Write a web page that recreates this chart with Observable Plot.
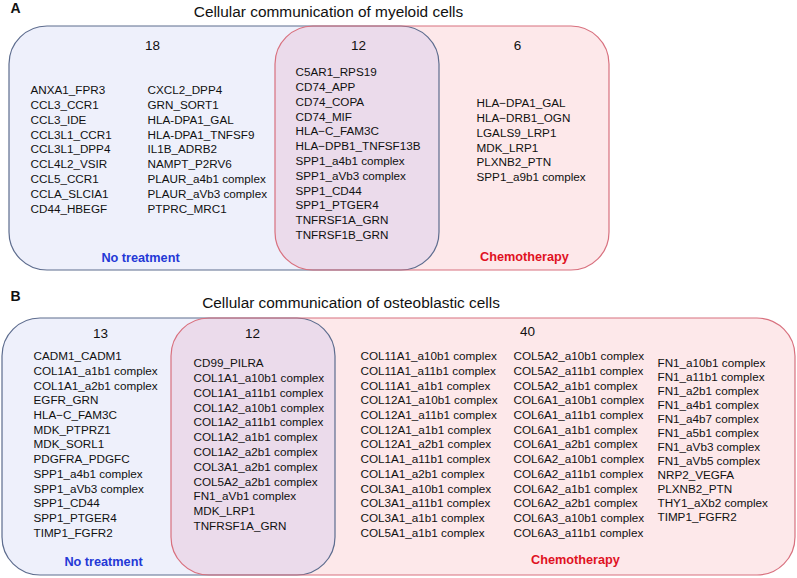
<!DOCTYPE html>
<html>
<head>
<meta charset="utf-8">
<script src="https://cdn.jsdelivr.net/npm/d3@7"></script>
<script src="https://cdn.jsdelivr.net/npm/@observablehq/plot@0.6"></script>
<style>
  html, body { margin: 0; padding: 0; background: #fff; }
  svg { display: block; }
</style>
</head>
<body>
<div id="chart"></div>
<script>
// ---------- data ----------
const panelLetters = ["A", "B"];
const panelTitles = [
  "Cellular communication of myeloid cells",
  "Cellular communication of osteoblastic cells"
];
const groupLabels = ["No treatment", "Chemotherapy"];
const countsA = [18, 12, 6];
const countsB = [13, 12, 40];

const myeloidNoTreatment = [
  "ANXA1_FPR3", "CCL3_CCR1", "CCL3_IDE", "CCL3L1_CCR1", "CCL3L1_DPP4",
  "CCL4L2_VSIR", "CCL5_CCR1", "CCLA_SLCIA1", "CD44_HBEGF",
  "CXCL2_DPP4", "GRN_SORT1", "HLA-DPA1_GAL", "HLA-DPA1_TNFSF9", "IL1B_ADRB2",
  "NAMPT_P2RV6", "PLAUR_a4b1 complex", "PLAUR_aVb3 complex", "PTPRC_MRC1"
];
const myeloidShared = [
  "C5AR1_RPS19", "CD74_APP", "CD74_COPA", "CD74_MIF", "HLA\u2212C_FAM3C",
  "HLA\u2212DPB1_TNFSF13B", "SPP1_a4b1 complex", "SPP1_aVb3 complex", "SPP1_CD44",
  "SPP1_PTGER4", "TNFRSF1A_GRN", "TNFRSF1B_GRN"
];
const myeloidChemo = [
  "HLA\u2212DPA1_GAL", "HLA\u2212DRB1_OGN", "LGALS9_LRP1", "MDK_LRP1",
  "PLXNB2_PTN", "SPP1_a9b1 complex"
];
const osteoNoTreatment = [
  "CADM1_CADM1", "COL1A1_a1b1 complex", "COL1A1_a2b1 complex", "EGFR_GRN",
  "HLA\u2212C_FAM3C", "MDK_PTPRZ1", "MDK_SORL1", "PDGFRA_PDGFC",
  "SPP1_a4b1 complex", "SPP1_aVb3 complex", "SPP1_CD44", "SPP1_PTGER4", "TIMP1_FGFR2"
];
const osteoShared = [
  "CD99_PILRA", "COL1A1_a10b1 complex", "COL1A1_a11b1 complex", "COL1A2_a10b1 complex",
  "COL1A2_a11b1 complex", "COL1A2_a1b1 complex", "COL1A2_a2b1 complex",
  "COL3A1_a2b1 complex", "COL5A2_a2b1 complex", "FN1_aVb1 complex", "MDK_LRP1",
  "TNFRSF1A_GRN"
];
const osteoChemo1 = [
  "COL11A1_a10b1 complex", "COL11A1_a11b1 complex", "COL11A1_a1b1 complex",
  "COL12A1_a10b1 complex", "COL12A1_a11b1 complex", "COL12A1_a1b1 complex",
  "COL12A1_a2b1 complex", "COL1A1_a11b1 complex", "COL1A1_a2b1 complex",
  "COL3A1_a10b1 complex", "COL3A1_a11b1 complex", "COL3A1_a1b1 complex",
  "COL5A1_a1b1 complex"
];
const osteoChemo2 = [
  "COL5A2_a10b1 complex", "COL5A2_a11b1 complex", "COL5A2_a1b1 complex",
  "COL6A1_a10b1 complex", "COL6A1_a11b1 complex", "COL6A1_a1b1 complex",
  "COL6A1_a2b1 complex", "COL6A2_a10b1 complex", "COL6A2_a11b1 complex",
  "COL6A2_a1b1 complex", "COL6A2_a2b1 complex", "COL6A3_a10b1 complex",
  "COL6A3_a11b1 complex"
];
const osteoChemo3 = [
  "FN1_a10b1 complex", "FN1_a11b1 complex", "FN1_a2b1 complex", "FN1_a4b1 complex",
  "FN1_a4b7 complex", "FN1_a5b1 complex", "FN1_aVb3 complex", "FN1_aVb5 complex",
  "NRP2_VEGFA", "PLXNB2_PTN", "THY1_aXb2 complex", "TIMP1_FGFR2"
];

// ---------- layout (positions / styles) ----------
const W = 797, H = 578;
const FONT = "'Liberation Sans', Arial, Helvetica, sans-serif";
const BLUE_FILL = "#eef0fb", RED_FILL = "#fde8ea", MIX_FILL = "#ebdbeb";
const BLUE_STROKE = "#5d6c8e", RED_STROKE = "#d8707e";
const BLUE_TEXT = "#2438d6", RED_TEXT = "#e0121f";

const layout = {
  A: {blue: {x1: 9, x2: 439, y1: 26, y2: 270}, red: {x1: 275, x2: 609, y1: 26, y2: 270}},
  B: {blue: {x1: 2, x2: 335, y1: 318, y2: 575}, red: {x1: 171, x2: 795, y1: 318, y2: 575}}
};
const R = 38;

function overlap(p) {
  return {x1: p.red.x1, x2: p.blue.x2, y1: Math.max(p.blue.y1, p.red.y1), y2: Math.min(p.blue.y2, p.red.y2)};
}

function listMark(items, x, y0, dy) {
  return Plot.text(items.map((t, i) => ({t, x, y: y0 + i * dy})), {
    x: "x", y: "y", text: "t", textAnchor: "start", fontSize: 11.7,
    fontFamily: FONT, fill: "#111"
  });
}

const rectsBlue = [layout.A.blue, layout.B.blue];
const rectsRed = [layout.A.red, layout.B.red];
const rectsMix = [overlap(layout.A), overlap(layout.B)];

const letters = panelLetters.map((t, i) => ({t, x: 15, y: [8, 296][i]}));
const titles = panelTitles.map((t, i) => ({t, x: [328, 350.5][i], y: [12, 303][i]}));
const counts = [
  ...countsA.map((c, i) => ({t: String(c), x: [152, 358, 517][i], y: 45})),
  ...countsB.map((c, i) => ({t: String(c), x: [100, 252, 527][i], y: [333, 333, 331][i]}))
];
const labelsBlue = [{t: groupLabels[0], x: 140, y: 257}, {t: groupLabels[0], x: 103, y: 561}];
const labelsRed = [{t: groupLabels[1], x: 524, y: 256}, {t: groupLabels[1], x: 575, y: 559}];

const rectOpts = {x1: "x1", x2: "x2", y1: "y1", y2: "y2", rx: R, ry: R};

const chart = Plot.plot({
  width: W,
  height: H,
  margin: 0,
  x: {domain: [0, W], range: [0, W], axis: null},
  y: {domain: [0, H], range: [0, H], axis: null},
  style: {background: "#fff", fontFamily: FONT},
  marks: [
    Plot.rect(rectsBlue, {...rectOpts, fill: BLUE_FILL}),
    Plot.rect(rectsRed, {...rectOpts, fill: RED_FILL}),
    Plot.rect(rectsMix, {...rectOpts, fill: MIX_FILL}),
    Plot.rect(rectsBlue, {...rectOpts, fill: "none", stroke: BLUE_STROKE, strokeWidth: 1.2}),
    Plot.rect(rectsRed, {...rectOpts, fill: "none", stroke: RED_STROKE, strokeWidth: 1.2}),

    Plot.text(letters, {x: "x", y: "y", text: "t", fontSize: 14, fontWeight: "bold", fontFamily: FONT, fill: "#111"}),
    Plot.text(titles, {x: "x", y: "y", text: "t", fontSize: 15.4, fontFamily: FONT, fill: "#111"}),
    Plot.text(counts, {x: "x", y: "y", text: "t", fontSize: 13.5, fontFamily: FONT, fill: "#111"}),
    Plot.text(labelsBlue, {x: "x", y: "y", text: "t", fontSize: 12.7, fontWeight: "bold", fontFamily: FONT, fill: BLUE_TEXT}),
    Plot.text(labelsRed, {x: "x", y: "y", text: "t", fontSize: 12.7, fontWeight: "bold", fontFamily: FONT, fill: RED_TEXT}),

    listMark(myeloidNoTreatment.slice(0, 9), 30, 90, 14.8),
    listMark(myeloidNoTreatment.slice(9), 147, 90, 14.8),
    listMark(myeloidShared, 295, 72, 14.8),
    listMark(myeloidChemo, 476, 103, 14.8),

    listMark(osteoNoTreatment, 33, 356, 14.7),
    listMark(osteoShared, 193, 363, 14.8),
    listMark(osteoChemo1, 360, 356, 14.7),
    listMark(osteoChemo2, 513, 356, 14.7),
    listMark(osteoChemo3, 657, 363, 14.0)
  ]
});

document.getElementById("chart").appendChild(chart);
</script>
</body>
</html>
